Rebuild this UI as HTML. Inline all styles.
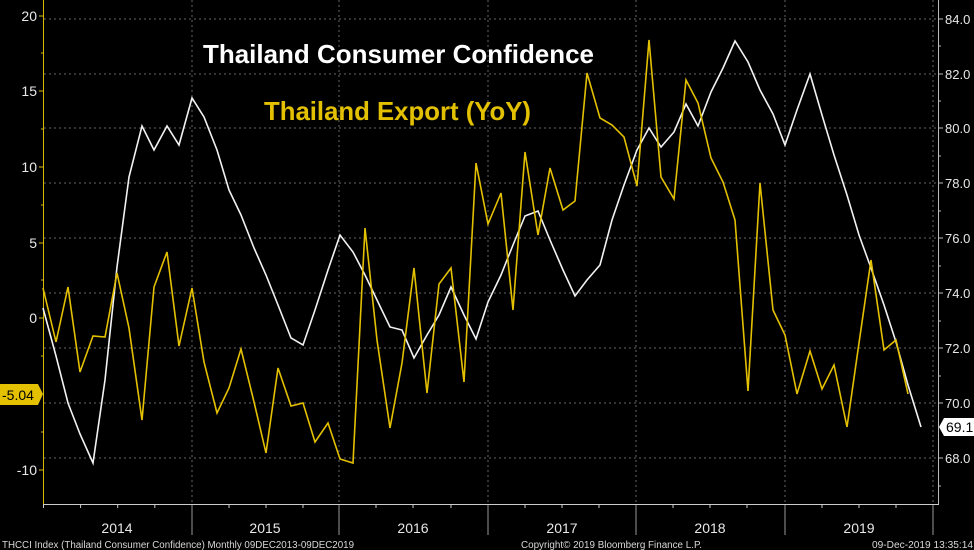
<!DOCTYPE html>
<html><head><meta charset="utf-8"><style>
html,body{margin:0;padding:0;background:#000;}
svg{display:block;}
</style></head><body>
<svg width="974" height="550" viewBox="0 0 974 550" xmlns="http://www.w3.org/2000/svg" font-family="Liberation Sans, sans-serif">
<rect width="974" height="550" fill="#000"/>
<!-- horizontal grid -->
<g stroke="#666" stroke-width="1" stroke-dasharray="2,3">
<line x1="44" y1="19" x2="937" y2="19"/>
<line x1="44" y1="74" x2="937" y2="74"/>
<line x1="44" y1="128" x2="937" y2="128"/>
<line x1="44" y1="183" x2="937" y2="183"/>
<line x1="44" y1="238" x2="937" y2="238"/>
<line x1="44" y1="293" x2="937" y2="293"/>
<line x1="44" y1="348" x2="937" y2="348"/>
<line x1="44" y1="403" x2="937" y2="403"/>
<line x1="44" y1="458" x2="937" y2="458"/>
<line x1="192" y1="0" x2="192" y2="504"/>
<line x1="339" y1="0" x2="339" y2="504"/>
<line x1="488" y1="0" x2="488" y2="504"/>
<line x1="636" y1="0" x2="636" y2="504"/>
<line x1="785" y1="0" x2="785" y2="504"/>
<line x1="933" y1="0" x2="933" y2="504"/>
</g>
<!-- axes -->
<line x1="43.5" y1="0" x2="43.5" y2="505" stroke="#d9b800" stroke-width="1"/>
<line x1="938.5" y1="0" x2="938.5" y2="505" stroke="#bbb" stroke-width="1"/>
<line x1="43" y1="504.5" x2="939" y2="504.5" stroke="#ccc" stroke-width="1"/>
<!-- left ticks -->
<g stroke="#d9b800">
<line x1="39" y1="16" x2="43" y2="16"/><line x1="41" y1="53" x2="43" y2="53"/>
<line x1="39" y1="91" x2="43" y2="91"/><line x1="41" y1="129" x2="43" y2="129"/>
<line x1="39" y1="167" x2="43" y2="167"/><line x1="41" y1="205" x2="43" y2="205"/>
<line x1="39" y1="243" x2="43" y2="243"/><line x1="41" y1="280" x2="43" y2="280"/>
<line x1="39" y1="318" x2="43" y2="318"/><line x1="41" y1="356" x2="43" y2="356"/>
<line x1="41" y1="432" x2="43" y2="432"/>
<line x1="39" y1="470" x2="43" y2="470"/>
</g>
<g fill="#e8e8e8" font-size="14" text-anchor="end">
<text x="37" y="21">20</text><text x="37" y="96">15</text><text x="37" y="172">10</text>
<text x="37" y="248">5</text><text x="37" y="323">0</text><text x="37" y="475">-10</text>
</g>
<!-- right ticks -->
<g stroke="#bbb">
<line x1="939" y1="19" x2="943" y2="19"/><line x1="939" y1="46" x2="941" y2="46"/>
<line x1="939" y1="74" x2="943" y2="74"/><line x1="939" y1="101" x2="941" y2="101"/>
<line x1="939" y1="128" x2="943" y2="128"/><line x1="939" y1="156" x2="941" y2="156"/>
<line x1="939" y1="183" x2="943" y2="183"/><line x1="939" y1="211" x2="941" y2="211"/>
<line x1="939" y1="238" x2="943" y2="238"/><line x1="939" y1="266" x2="941" y2="266"/>
<line x1="939" y1="293" x2="943" y2="293"/><line x1="939" y1="321" x2="941" y2="321"/>
<line x1="939" y1="348" x2="943" y2="348"/><line x1="939" y1="376" x2="941" y2="376"/>
<line x1="939" y1="403" x2="943" y2="403"/>
<line x1="939" y1="458" x2="943" y2="458"/><line x1="939" y1="486" x2="941" y2="486"/>
</g>
<g fill="#e8e8e8" font-size="13">
<text x="945" y="24">84.0</text><text x="945" y="79">82.0</text><text x="945" y="133">80.0</text>
<text x="945" y="188">78.0</text><text x="945" y="243">76.0</text><text x="945" y="298">74.0</text>
<text x="945" y="353">72.0</text><text x="945" y="408">70.0</text><text x="945" y="463">68.0</text>
</g>
<!-- bottom ticks -->
<g stroke="#ccc">
<line x1="43.5" y1="505" x2="43.5" y2="508"/><line x1="80.6" y1="505" x2="80.6" y2="508"/><line x1="117.7" y1="505" x2="117.7" y2="508"/><line x1="154.8" y1="505" x2="154.8" y2="508"/>
<line x1="229" y1="505" x2="229" y2="508"/><line x1="266" y1="505" x2="266" y2="508"/><line x1="303" y1="505" x2="303" y2="508"/>
<line x1="376" y1="505" x2="376" y2="508"/><line x1="413" y1="505" x2="413" y2="508"/><line x1="451" y1="505" x2="451" y2="508"/>
<line x1="525" y1="505" x2="525" y2="508"/><line x1="562" y1="505" x2="562" y2="508"/><line x1="599" y1="505" x2="599" y2="508"/>
<line x1="673" y1="505" x2="673" y2="508"/><line x1="710" y1="505" x2="710" y2="508"/><line x1="747" y1="505" x2="747" y2="508"/>
<line x1="822" y1="505" x2="822" y2="508"/><line x1="859" y1="505" x2="859" y2="508"/><line x1="896" y1="505" x2="896" y2="508"/>
</g>
<g stroke="#999">
<line x1="192" y1="505" x2="192" y2="535"/><line x1="339" y1="505" x2="339" y2="535"/>
<line x1="488" y1="505" x2="488" y2="535"/><line x1="636" y1="505" x2="636" y2="535"/>
<line x1="785" y1="505" x2="785" y2="535"/><line x1="933" y1="505" x2="933" y2="535"/>
</g>
<g fill="#e8e8e8" font-size="14" text-anchor="middle">
<text x="117" y="533">2014</text><text x="265" y="533">2015</text><text x="413" y="533">2016</text>
<text x="562" y="533">2017</text><text x="710" y="533">2018</text><text x="859" y="533">2019</text>
</g>
<g fill="#d8d8d8" font-size="10">
<text x="2" y="548" textLength="352" lengthAdjust="spacingAndGlyphs">THCCI Index (Thailand Consumer Confidence)  Monthly 09DEC2013-09DEC2019</text>
<text x="521" y="548" textLength="181" lengthAdjust="spacingAndGlyphs">Copyright© 2019 Bloomberg Finance L.P.</text>
<text x="872" y="548" textLength="101" lengthAdjust="spacingAndGlyphs">09-Dec-2019 13:35:14</text>
</g>
<!-- titles -->
<text x="203" y="63" fill="#fff" font-size="26" font-weight="bold" textLength="391" lengthAdjust="spacingAndGlyphs">Thailand Consumer Confidence</text>
<text x="264" y="120" fill="#e3c000" font-size="26" font-weight="bold" textLength="267" lengthAdjust="spacingAndGlyphs">Thailand Export (YoY)</text>
<!-- white series -->
<polyline fill="none" stroke="#f2f2f2" stroke-width="1.6" stroke-linejoin="miter" points="
43,308 56,356 68,403 80,434 93,463 105,380 117,267 129,177 142,126 154,150 167,126 179,145 192,98 204,117 217,150 229,190 241,215 254,248 266,275 278,305 291,338 303,345 315,310 328,270 340,235 353,252 365,275 377,300 390,327 402,330 414,358 427,335 439,315 451,287 464,315 476,339 488,302 501,275 513,245 525,216 538,211 550,240 563,270 575,296 587,280 600,265 612,220 624,185 637,150 649,128 661,147 674,132 686,104 698,126 711,92 723,68 735,41 748,62 760,90 773,114 785,145 797,110 810,74 822,115 834,155 847,195 859,235 871,268 884,305 896,342 908,385 921,427"/>
<!-- yellow series -->
<polyline fill="none" stroke="#e3c000" stroke-width="1.6" stroke-linejoin="miter" points="
43,288 56,342 68,287 80,372 93,336 105,337 117,273 129,328 142,420 154,287 167,252 179,346 192,288 204,362 217,413 229,388 241,349 254,402 266,453 278,368 291,406 303,403 315,442 328,423 340,459 353,463 365,228 377,340 390,428 402,363 414,268 427,393 439,284 451,268 464,382 476,163 488,224 501,193 513,310 525,152 538,235 550,168 563,210 575,201 587,73 600,118 612,125 624,137 637,186 649,40 661,177 674,199 686,80 698,103 711,158 723,182 735,220 748,391 760,183 773,310 785,335 797,394 810,351 822,389 834,365 847,427 859,343 871,260 884,350 896,340 908,394"/>
<!-- value tags -->
<path d="M0,384 H38 L43,394 L38,405 H0 Z" fill="#e3c000"/>
<text x="2" y="400" fill="#000" font-size="14">-5.04</text>
<path d="M944,418 H974 V436 H944 L939,427 Z" fill="#fff"/>
<text x="946" y="432" fill="#000" font-size="14">69.1</text>
</svg>
</body></html>
